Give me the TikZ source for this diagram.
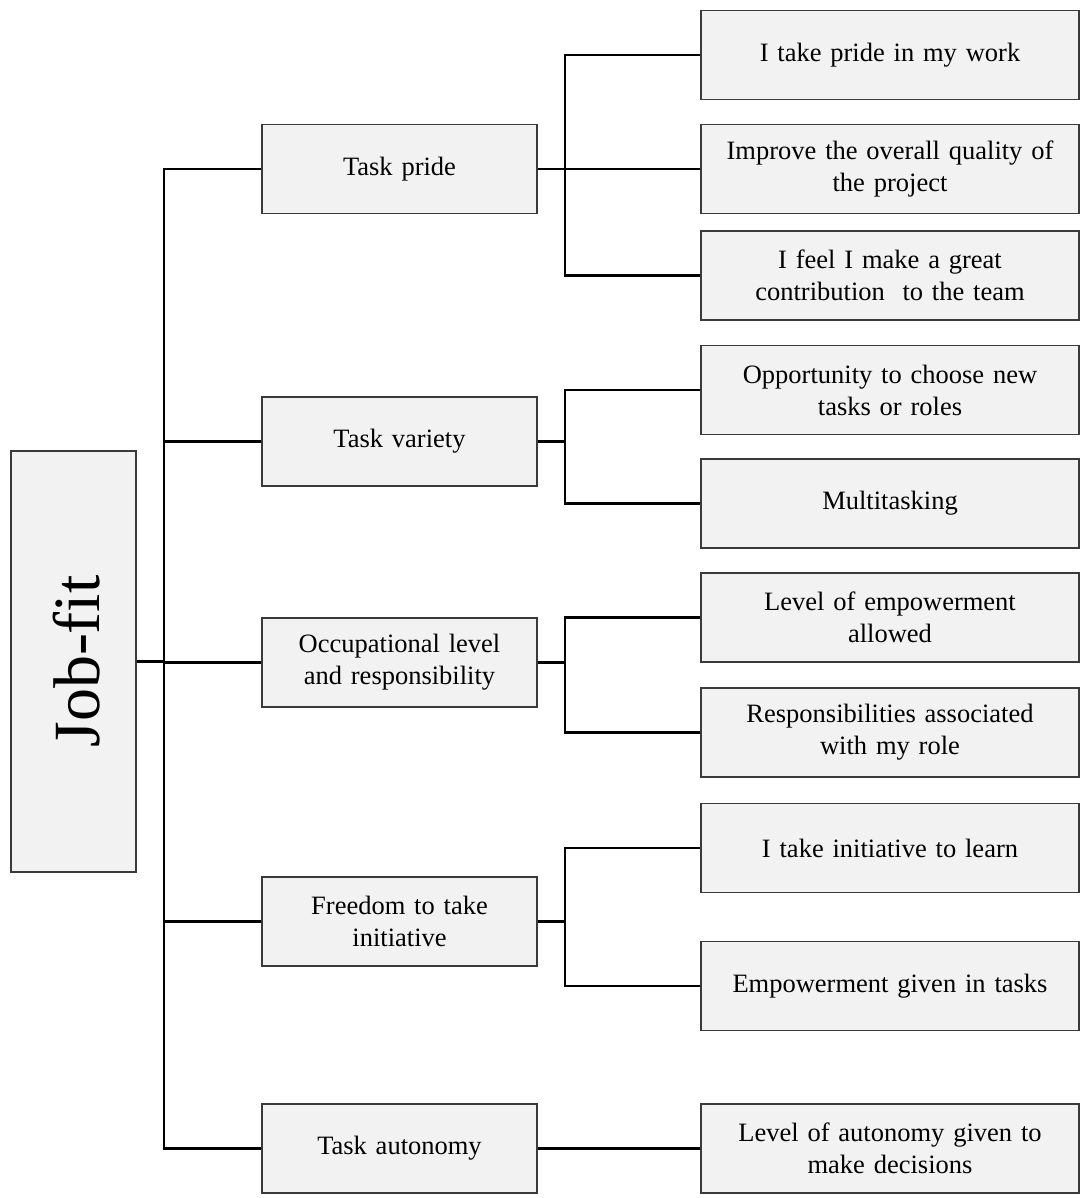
\documentclass[tikz,border=0pt]{standalone}
\usepackage{fontspec}
\setmainfont{Liberation Serif}
\definecolor{boxfill}{HTML}{F2F2F2}
\definecolor{boxline}{HTML}{3A3A3A}
\begin{document}
\begin{tikzpicture}[x=1pt,y=-1pt,
  box/.style={draw=boxline, line width=1.3pt, fill=boxfill, align=center,
    inner sep=2pt, font=\fontsize{26.5}{32}\selectfont},
  leaf/.style={box, minimum width=378pt, minimum height=89pt, text width=372pt},
  mid/.style={box, minimum width=275pt, minimum height=89pt, text width=270pt},
  conn/.style={draw=black, line width=2.5pt}]
\useasboundingbox (0,0) rectangle (1080,1198);
% root
\node[draw=boxline, line width=1.3pt, fill=boxfill, minimum width=125pt, minimum height=421pt, inner sep=0pt] (jf) at (73.5,661.5) {};
\node[rotate=90, font=\fontsize{66}{72}\selectfont, anchor=center] (jft) at (77,661.5) {Job-fit};
% middle level
\node[mid] (tp) at (399.5,169) {Task pride};
\node[mid] (tv) at (399.5,441.5) {Task variety};
\node[mid] (oc) at (399.5,662.5) {Occupational level\\and responsibility};
\node[mid] (fr) at (399.5,921.5) {Freedom to take\\initiative};
\node[mid] (ta) at (399.5,1148.5) {Task autonomy};
% leaves
\node[leaf] (r1) at (890,55) {I take pride in my work};
\node[leaf] (r2) at (890,169) {Improve the overall quality of\\the project};
\node[leaf] (r3) at (890,275.5) {I feel I make a great\\contribution\ \ to the team};
\node[leaf] (r4) at (890,390) {Opportunity to choose new\\tasks or roles};
\node[leaf] (r5) at (890,503.5) {Multitasking};
\node[leaf] (r6) at (890,617.5) {Level of empowerment\\allowed};
\node[leaf] (r7) at (890,732.5) {Responsibilities associated\\with my role};
\node[leaf] (r8) at (890,848) {I take initiative to learn};
\node[leaf] (r9) at (890,986) {Empowerment given in tasks};
\node[leaf] (r10) at (890,1148.5) {Level of autonomy given to\\make decisions};
% connector guides
\coordinate (trk) at (164,0);
\coordinate (br) at (565,0);
% trunk
\draw[conn] (jf.east) -- (jf.east -| trk);
\draw[conn] (tp.west) -| (trk |- ta.west) -- (ta.west);
\draw[conn] (tv.west) -- (tv.west -| trk);
\draw[conn] (oc.west) -- (oc.west -| trk);
\draw[conn] (fr.west) -- (fr.west -| trk);
% task pride branch
\draw[conn] (tp.east) -- (r2.west);
\draw[conn] (r1.west) -| (br |- r3.west) -- (r3.west);
% task variety branch
\draw[conn] (tv.east) -- (tv.east -| br);
\draw[conn] (r4.west) -| (br |- r5.west) -- (r5.west);
% occupational branch
\draw[conn] (oc.east) -- (oc.east -| br);
\draw[conn] (r6.west) -| (br |- r7.west) -- (r7.west);
% freedom branch
\draw[conn] (fr.east) -- (fr.east -| br);
\draw[conn] (r8.west) -| (br |- r9.west) -- (r9.west);
% autonomy
\draw[conn] (ta.east) -- (r10.west);
\end{tikzpicture}
\end{document}
